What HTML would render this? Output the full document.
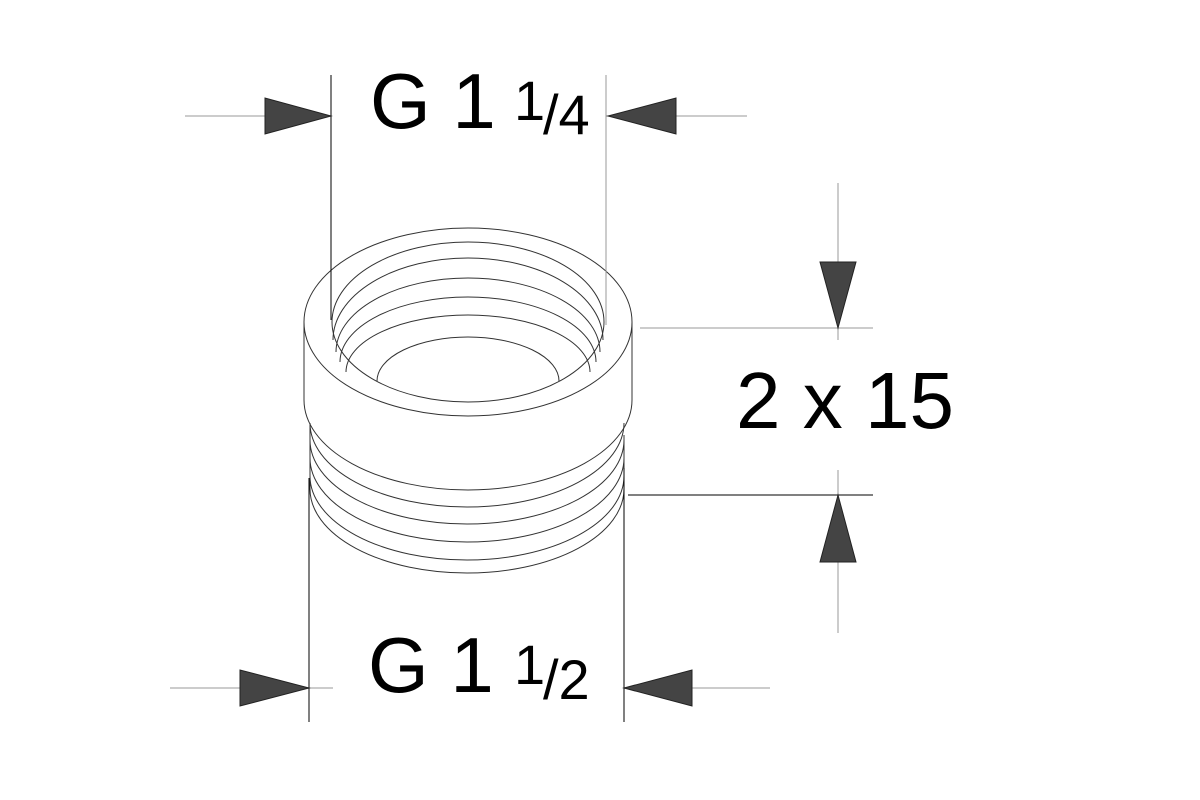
<!DOCTYPE html>
<html><head><style>body{margin:0;background:#fff}svg{display:block}</style></head><body>
<svg width="1200" height="800" viewBox="0 0 1200 800" xmlns="http://www.w3.org/2000/svg">
<rect width="1200" height="800" fill="#fff"/>
<g fill="none" stroke="#333" stroke-width="1">
<ellipse cx="468" cy="322" rx="164" ry="94"/>
<ellipse cx="468" cy="322" rx="136" ry="80"/>
<line x1="304" y1="322" x2="304" y2="400"/>
<line x1="632" y1="322" x2="632" y2="400"/>
<path d="M304 400 A164 90 0 0 0 632 400"/>
<path d="M333 340 A135 82 0 0 1 603 340"/>
<path d="M336 352 A132 74 0 0 1 600 352"/>
<path d="M340 362 A128 65 0 0 1 596 362"/>
<path d="M346 372 A122 57 0 0 1 590 372"/>
<path d="M377 381 A91 44 0 0 1 559 381"/>
<path d="M310 423 A157 84 0 0 0 624 423"/>
<path d="M310 440 A157 84 0 0 0 624 440"/>
<path d="M310 458 A157 84 0 0 0 624 458"/>
<path d="M310 476 A157 84 0 0 0 624 476"/>
<path d="M310 489 A157 84 0 0 0 624 489"/>
<line x1="310" y1="423" x2="310" y2="489"/>
<line x1="624" y1="435" x2="624" y2="489"/>
</g>
<g stroke="#000" stroke-width="1" fill="none">
<line x1="331" y1="75" x2="331" y2="320"/>
<line x1="309" y1="478" x2="309" y2="722"/>
<line x1="624" y1="468" x2="624" y2="722"/>
<line x1="628" y1="495" x2="873" y2="495"/>
</g>
<g stroke="#999" stroke-width="1" fill="none">
<line x1="606" y1="75" x2="606" y2="325"/>
<line x1="185" y1="116" x2="331" y2="116"/>
<line x1="606" y1="116" x2="747" y2="116"/>
<line x1="170" y1="688" x2="333" y2="688"/>
<line x1="624" y1="688" x2="770" y2="688"/>
<line x1="640" y1="328" x2="873" y2="328"/>
<line x1="838" y1="183" x2="838" y2="340"/>
<line x1="838" y1="470" x2="838" y2="633"/>
</g>
<g fill="#444" stroke="#222" stroke-width="1">
<polygon points="265,98 265,134 331,116"/>
<polygon points="676,98 676,134 608,116"/>
<polygon points="240,670 240,706 309,688"/>
<polygon points="692,670 692,706 624,688"/>
<polygon points="820,262 856,262 838,328"/>
<polygon points="820,562 856,562 838,495"/>
</g>
<g font-family="Liberation Sans, sans-serif" fill="#000">
<text x="370" y="128" font-size="78">G 1</text>
<text x="514" y="120" font-size="56">1</text>
<text x="543" y="134" font-size="56">/4</text>
<text x="368" y="692" font-size="78">G 1</text>
<text x="514" y="684" font-size="56">1</text>
<text x="543" y="699" font-size="56">/2</text>
<text x="736" y="428" font-size="80">2 x 15</text>
</g>
</svg>
</body></html>
